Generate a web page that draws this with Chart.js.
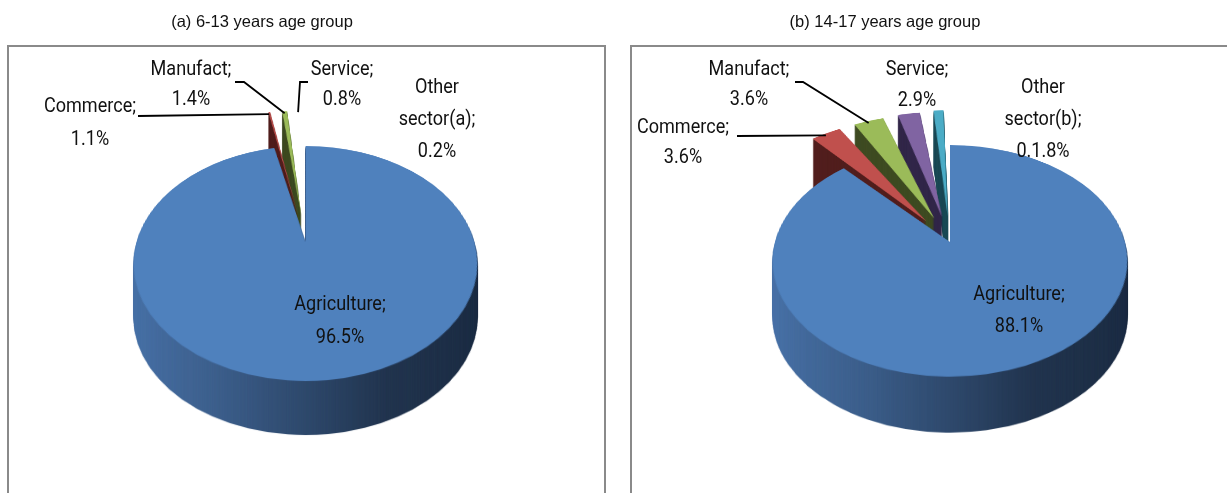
<!DOCTYPE html>
<html><head><meta charset="utf-8">
<script src="https://cdn.jsdelivr.net/npm/chart.js@4.4.1/dist/chart.umd.min.js"></script>
<style>
html,body{margin:0;padding:0;background:#fff;}
#wrap{position:relative;width:1227px;height:493px;overflow:hidden;background:#fff;}
#c1{position:absolute;left:0;top:0;}
#c2{position:absolute;left:613px;top:0;}
</style></head><body>
<div id="wrap"><canvas id="c1" width="613" height="493"></canvas><canvas id="c2" width="614" height="493"></canvas></div>
<script>
// ---- data ----
const categoriesA = ['Agriculture', 'Commerce', 'Manufact', 'Service', 'Other sector(a)'];
const categoriesB = ['Agriculture', 'Commerce', 'Manufact', 'Service', 'Other sector(b)'];
const valuesA = [96.5, 1.1, 1.4, 0.8, 0.2];
const valuesB = [88.1, 3.6, 3.6, 2.9, 1.8];
const valueTextA = ['96.5%', '1.1%', '1.4%', '0.8%', '0.2%'];
const valueTextB = ['88.1%', '3.6%', '3.6%', '2.9%', '0.1.8%'];
const titles = ['(a) 6-13 years age group', '(b) 14-17 years age group'];

// ---- styles ----
const topColors = ['#4f81bd', '#c0504d', '#9bbb59', '#8064a2', '#4bacc6'];
const sideColors = [null, '#521f1e', '#3f4c23', '#33284a', '#1d4b57'];
const agriSideStops = [[0, '#4a74aa'], [0.3, '#3c5e8a'], [0.7, '#22354f'], [1, '#1c2c43']];
const LABEL_FONT = '21px Roboto, "Liberation Sans", sans-serif';
const LABEL_SX = 0.86;
const TITLE_FONT = '16.5px "Liberation Sans", Arial, sans-serif';

function mk(w, h) { const c = document.createElement('canvas'); c.width = w; c.height = h; return c; }

function makePanel(cfg) {
  const FW = 800, FH = 800, fcx = 400, fcy = 400;
  function project(u, v) {
    const w = 1 - cfg.p * v;
    return [cfg.cx + u / w, cfg.cy + cfg.k * v / w];
  }
  function warp(src, W, H) {
    const dst = mk(W, H), c = dst.getContext('2d');
    c.imageSmoothingEnabled = true;
    for (let yd = 0; yd < H; yd++) {
      const y0 = yd - cfg.cy, y1 = y0 + 1;
      const d0 = cfg.k + cfg.p * y0, d1 = cfg.k + cfg.p * y1;
      if (d0 <= 0) continue;
      const v0 = y0 / d0, v1 = y1 / d1;
      const sy0 = fcy + v0, sy1 = fcy + v1;
      if (sy0 < 0 || sy1 > FH) continue;
      const s = 1 / (1 - cfg.p * (v0 + v1) / 2);
      c.drawImage(src, 0, sy0, FW, sy1 - sy0, cfg.cx - fcx * s, yd, FW * s, 1);
    }
    return dst;
  }
  const plugin = {
    id: 'pie3d',
    beforeDraw(chart) {
      const ctx = chart.ctx;
      ctx.save();
      ctx.fillStyle = '#fff'; ctx.fillRect(0, 0, chart.width, chart.height);
      ctx.strokeStyle = '#8a8a8a'; ctx.lineWidth = 2;
      ctx.strokeRect(cfg.box[0], cfg.box[1], cfg.box[2], cfg.box[3]);
      ctx.fillStyle = '#111'; ctx.font = TITLE_FONT;
      ctx.textAlign = 'center'; ctx.textBaseline = 'middle';
      ctx.fillText(cfg.title, cfg.titleX, cfg.titleY);
      ctx.restore();
    },
    beforeDatasetsDraw(chart) {
      const ctx = chart.ctx;
      const meta = chart.getDatasetMeta(0);
      const flatTop = mk(FW, FH), flatSide = mk(FW, FH);
      const tctx = flatTop.getContext('2d'), sctx = flatSide.getContext('2d');
      meta.data.forEach((el, i) => {
        tctx.save(); tctx.translate(fcx - el.x, fcy - el.y); el.draw(tctx); tctx.restore();
        sctx.save(); sctx.translate(fcx - el.x, fcy - el.y);
        let side = sideColors[i];
        if (!side) {
          side = sctx.createLinearGradient(el.x - el.outerRadius, 0, el.x + el.outerRadius, 0);
          agriSideStops.forEach(s => side.addColorStop(s[0], s[1]));
        }
        const o = el.options;
        el.options = Object.assign({}, o, { backgroundColor: side, borderColor: side });
        el.draw(sctx);
        el.options = o;
        sctx.restore();
      });
      const W = chart.width, H = chart.height;
      const wTop = warp(flatTop, W, H), wSide = warp(flatSide, W, H);
      for (let d = cfg.depth; d >= 1; d--) ctx.drawImage(wSide, 0, d);
      ctx.drawImage(wTop, 0, 0);
      return false;
    },
    afterDraw(chart) {
      const ctx = chart.ctx;
      const meta = chart.getDatasetMeta(0);
      ctx.save();
      ctx.font = LABEL_FONT; ctx.fillStyle = '#111';
      ctx.textAlign = 'center'; ctx.textBaseline = 'middle';
      meta.data.forEach((el, i) => {
        const L = cfg.labels[i];
        const name = cfg.categories[i] + ';';
        const sp = name.indexOf(' ');
        const lines = sp > 0 ? [name.slice(0, sp), name.slice(sp + 1)] : [name];
        lines.push(cfg.valueText[i]);
        lines.forEach((t, j) => {
          ctx.save();
          ctx.translate(L.x, L.y + j * L.gap);
          ctx.scale(LABEL_SX, 1);
          ctx.fillText(t, 0, 0);
          ctx.restore();
        });
        if (L.lead) {
          const mid = (el.startAngle + el.endAngle) / 2;
          const off = (el.options.offset || 0) / 4;
          const fix = 1 - Math.sin(Math.min(Math.PI, el.circumference));
          const r = el.outerRadius + off * fix + off;
          const tip = project(Math.cos(mid) * r, Math.sin(mid) * r);
          ctx.strokeStyle = '#000'; ctx.lineWidth = 1.8;
          ctx.beginPath();
          L.lead.forEach((pt, j) => j ? ctx.lineTo(pt[0], pt[1]) : ctx.moveTo(pt[0], pt[1]));
          ctx.lineTo(tip[0], tip[1] + 2);
          ctx.stroke();
        }
      });
      ctx.restore();
    }
  };
  const W = cfg.W, H = 493;
  return new Chart(document.getElementById(cfg.id), {
    type: 'pie',
    data: {
      labels: cfg.categories,
      datasets: [{ data: cfg.values, backgroundColor: topColors, borderWidth: 0, offset: cfg.offsets }]
    },
    options: {
      responsive: false, animation: false, devicePixelRatio: 1, events: [],
      radius: cfg.R,
      layout: { padding: {
        left: Math.max(0, 2 * cfg.cx - W), right: Math.max(0, W - 2 * cfg.cx),
        top: Math.max(0, 2 * cfg.cy - H), bottom: Math.max(0, H - 2 * cfg.cy) } },
      plugins: { legend: { display: false }, tooltip: { enabled: false }, title: { display: false } }
    },
    plugins: [plugin]
  });
}

makePanel({
  id: 'c1', W: 613, categories: categoriesA, values: valuesA, valueText: valueTextA, title: titles[0],
  cx: 305.5, cy: 242, R: 169, k: 0.672, p: 0.001083, depth: 54, offsets: [0, 165, 165, 165, 165],
  box: [8, 46, 597, 480], titleX: 262, titleY: 22,
  labels: [
    { x: 340, y: 305, gap: 33 },
    { x: 90, y: 107, gap: 33, lead: [[138, 116]] },
    { x: 191, y: 70, gap: 30, lead: [[235, 82], [244, 82]] },
    { x: 342, y: 70, gap: 30, lead: [[308, 82], [300, 82]] },
    { x: 437, y: 88, gap: 32 }
  ]
});
makePanel({
  id: 'c2', W: 614, categories: categoriesB, values: valuesB, valueText: valueTextB, title: titles[1],
  cx: 337, cy: 242, R: 175, k: 0.644, p: 0.000931, depth: 56, offsets: [0, 165, 165, 165, 165],
  box: [18, 46, 620, 480], titleX: 272, titleY: 22,
  labels: [
    { x: 406, y: 295, gap: 32 },
    { x: 70, y: 128, gap: 30, lead: [[124, 136]] },
    { x: 136, y: 70, gap: 30, lead: [[182, 82], [190, 82]] },
    { x: 304, y: 70, gap: 31 },
    { x: 430, y: 88, gap: 32 }
  ]
});
</script>
</body></html>
